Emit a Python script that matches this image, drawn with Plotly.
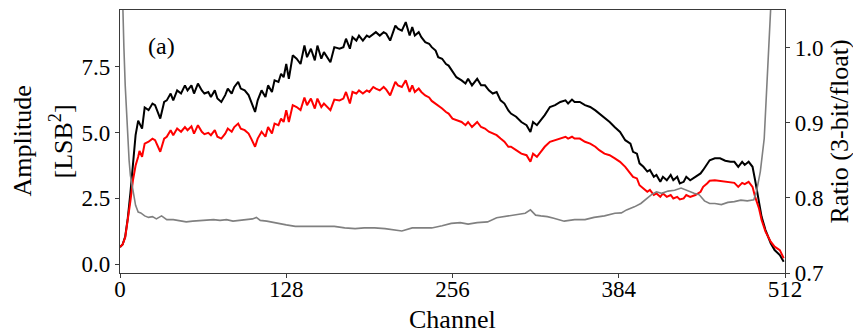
import plotly.graph_objects as go

# Channel grid for the amplitude spectra
channel = [0, 2, 4, 6, 8, 10, 12, 14, 15, 17, 19, 22, 25, 27, 31, 34, 36, 39, 41, 44,
           47, 50, 52, 55, 57, 60, 63, 65, 68, 70, 73, 75, 78, 81, 83, 86, 88, 91, 93, 96,
           99, 101, 104, 106, 109, 112, 114, 117, 119, 122, 124, 126, 128, 130, 133, 136, 139, 142, 144, 147,
           150, 152, 155, 157, 162, 165, 169, 172, 174, 177, 179, 182, 184, 187, 190, 192, 195, 197, 200, 203,
           205, 208, 212, 214, 217, 220, 223, 225, 227, 230, 232, 235, 238, 240, 243, 245, 248, 251, 253, 256,
           259, 263, 266, 268, 271, 275, 278, 281, 284, 287, 290, 293, 296, 299, 301, 305, 309, 313, 316, 318,
           321, 324, 327, 331, 335, 339, 343, 345, 348, 350, 354, 358, 362, 366, 369, 373, 377, 381, 385, 389,
           393, 395, 398, 400, 403, 406, 408, 411, 413, 416, 418, 421, 424, 426, 429, 431, 434, 436, 439, 443,
           447, 449, 452, 454, 458, 462, 466, 470, 473, 476, 479, 481, 484, 487, 489, 492, 494, 497, 501, 504,
           508, 511]

# Floating-point spectrum amplitude [LSB^2]
amp_float = [0.65, 0.75, 1.05, 1.75, 2.7, 3.9, 4.9, 5.45, 5.35, 5.15, 5.95, 5.85, 6.1, 6.04, 5.53, 6.16, 6.22, 6.48, 6.22, 6.6,
             6.48, 6.79, 6.6, 6.79, 6.48, 6.86, 6.6, 6.48, 6.54, 6.35, 6.6, 6.29, 6.16, 6.42, 6.67, 6.48, 6.73, 6.92, 6.67, 6.6,
             6.42, 6.16, 5.78, 6.22, 6.6, 6.35, 6.79, 6.54, 6.98, 6.92, 7.23, 7.1, 7.6, 7.04, 7.93, 7.8, 7.6, 8.3, 7.86, 8.18,
             7.74, 8.3, 7.8, 8.05, 7.67, 8.24, 8.18, 8.24, 8.56, 8.18, 8.62, 8.49, 8.68, 8.49, 8.68, 8.62, 8.75, 8.81, 8.68, 8.81,
             8.75, 8.49, 9.06, 8.94, 8.87, 9.19, 8.68, 9.0, 8.68, 8.81, 8.62, 8.43, 8.37, 8.24, 8.11, 7.86, 7.8, 7.6, 7.54, 7.3,
             7.1, 6.98, 6.86, 7.04, 6.79, 7.04, 6.79, 6.79, 6.6, 6.48, 6.54, 6.22, 6.1, 5.84, 5.72, 5.6, 5.4, 5.28, 5.02, 5.4,
             5.28, 5.47, 5.66, 5.97, 6.04, 6.16, 6.22, 6.1, 6.25, 6.16, 6.16, 6.04, 5.97, 5.84, 5.72, 5.53, 5.4, 5.2, 5.02, 4.71,
             4.58, 4.27, 4.2, 3.83, 3.7, 3.52, 3.58, 3.32, 3.39, 3.13, 3.32, 3.19, 3.39, 3.19, 3.32, 3.07, 3.13, 3.32, 3.19, 3.32,
             3.45, 3.58, 3.83, 3.95, 4.02, 4.02, 3.93, 3.89, 3.89, 3.7, 3.89, 3.77, 3.89, 3.7, 3.19, 2.44, 1.8, 1.3, 0.8, 0.54,
             0.35, 0.1]

# 3-bit quantised spectrum amplitude [LSB^2]
amp_3bit = [0.65, 0.75, 1.02, 1.65, 2.4, 3.2, 3.75, 4.08, 4.3, 4.08, 4.58, 4.65, 4.77, 4.71, 4.27, 4.77, 4.84, 5.09, 4.9, 5.15,
            5.03, 5.21, 5.09, 5.24, 4.96, 5.28, 5.03, 4.94, 4.99, 4.9, 5.09, 4.84, 4.77, 4.96, 5.15, 5.03, 5.21, 5.34, 5.15, 5.09,
            4.96, 4.77, 4.46, 4.77, 5.03, 4.84, 5.21, 4.96, 5.34, 5.28, 5.53, 5.4, 5.85, 5.4, 6.04, 5.97, 5.85, 6.33, 6.04, 6.29,
            5.91, 6.29, 5.97, 6.1, 5.85, 6.25, 6.22, 6.29, 6.54, 6.1, 6.54, 6.48, 6.6, 6.48, 6.6, 6.54, 6.73, 6.67, 6.6, 6.73,
            6.63, 6.41, 6.92, 6.79, 6.73, 6.98, 6.54, 6.79, 6.54, 6.67, 6.54, 6.41, 6.33, 6.2, 6.1, 6.04, 5.91, 5.78, 5.72, 5.53,
            5.47, 5.4, 5.28, 5.4, 5.21, 5.4, 5.21, 5.15, 5.03, 4.96, 4.9, 4.77, 4.65, 4.46, 4.46, 4.33, 4.2, 4.14, 3.89, 4.2,
            4.08, 4.27, 4.46, 4.65, 4.71, 4.77, 4.84, 4.77, 4.84, 4.77, 4.77, 4.65, 4.58, 4.46, 4.33, 4.2, 4.14, 4.02, 3.89, 3.7,
            3.45, 3.32, 3.26, 3.0, 2.88, 2.75, 2.82, 2.63, 2.69, 2.56, 2.69, 2.56, 2.63, 2.5, 2.56, 2.46, 2.5, 2.63, 2.56, 2.63,
            2.75, 2.94, 3.07, 3.17, 3.19, 3.17, 3.13, 3.13, 3.09, 2.94, 3.09, 3.04, 3.13, 2.94, 2.56, 2.12, 1.68, 1.24, 0.86, 0.67,
            0.54, 0.23]

# Ratio of the 3-bit to the floating-point spectrum
ratio_channel = [0, 1, 2, 3, 4, 5, 6, 7, 8, 10, 12, 14, 16, 19, 22, 25, 28, 32, 36, 41,
                 46, 51, 56, 62, 67, 72, 77, 82, 87, 92, 97, 102, 105, 108, 113, 118, 123, 128, 135, 143,
                 150, 158, 165, 173, 181, 188, 196, 204, 212, 217, 225, 233, 240, 248, 255, 262, 268, 275, 283, 290,
                 298, 306, 312, 316, 320, 324, 329, 334, 342, 350, 358, 365, 373, 381, 386, 390, 396, 401, 406, 409,
                 413, 417, 422, 427, 432, 437, 442, 446, 450, 454, 458, 463, 468, 473, 478, 483, 488, 490, 493, 496,
                 498, 500, 502, 504, 506, 511]
ratio = [1.2, 1.12, 1.06, 1.0, 0.95, 0.91, 0.875, 0.85, 0.83, 0.808, 0.79, 0.781, 0.78, 0.776, 0.774, 0.775, 0.772, 0.776, 0.771, 0.771,
         0.769, 0.768, 0.769, 0.77, 0.771, 0.771, 0.77, 0.771, 0.769, 0.77, 0.77, 0.772, 0.774, 0.77, 0.769, 0.767, 0.765, 0.764, 0.762, 0.762,
         0.762, 0.763, 0.762, 0.76, 0.759, 0.76, 0.76, 0.759, 0.757, 0.756, 0.76, 0.76, 0.76, 0.763, 0.766, 0.767, 0.765, 0.767, 0.768, 0.7735,
         0.7757, 0.777, 0.7795, 0.784, 0.777, 0.776, 0.775, 0.773, 0.769, 0.771, 0.771, 0.774, 0.776, 0.7795, 0.78, 0.784, 0.788, 0.7925, 0.8, 0.804,
         0.808, 0.806, 0.809, 0.81, 0.813, 0.809, 0.806, 0.804, 0.796, 0.7925, 0.7925, 0.791, 0.794, 0.795, 0.797, 0.796, 0.7975, 0.808, 0.835, 0.879,
         0.937, 0.994, 1.05, 1.12, 1.2, 1.4]

x_ticks = [0, 128, 256, 384, 512]
y_ticks = [0.0, 2.5, 5.0, 7.5]
y_ticktext = ["0.0", "2.5", "5.0", "7.5"]
ratio_ticks = [0.7, 0.8, 0.9, 1.0]
ratio_ticktext = ["0.7", "0.8", "0.9", "1.0"]

SERIF = "Liberation Serif, Times New Roman, serif"
AXIS_COLOR = "#3a3a3a"

fig = go.Figure()
fig.add_trace(go.Scatter(x=channel, y=amp_float, mode="lines",
                         line=dict(color="black", width=2), name="float"))
fig.add_trace(go.Scatter(x=channel, y=amp_3bit, mode="lines",
                         line=dict(color="#ff0000", width=2), name="3-bit"))
fig.add_trace(go.Scatter(x=ratio_channel, y=ratio, mode="lines", yaxis="y2",
                         line=dict(color="#808080", width=1.6), name="ratio"))

axis_common = dict(showline=True, linecolor=AXIS_COLOR, linewidth=1.3,
                   ticks="outside", ticklen=4, tickwidth=1.2, tickcolor=AXIS_COLOR,
                   showgrid=False, zeroline=False,
                   tickfont=dict(family=SERIF, size=23, color="black"))

fig.update_layout(
    width=853, height=333,
    margin=dict(l=120, r=68, t=10, b=60),
    paper_bgcolor="white", plot_bgcolor="white",
    showlegend=False,
    xaxis=dict(range=[0, 512], tickvals=x_ticks, mirror=True,
               ticklabelstandoff=-9, **axis_common),
    yaxis=dict(range=[-0.33, 9.65], tickvals=y_ticks, ticktext=y_ticktext, **axis_common),
    yaxis2=dict(range=[0.7, 1.05], tickvals=ratio_ticks, ticktext=ratio_ticktext,
                overlaying="y", side="right", **axis_common),
    annotations=[
        dict(text="Channel", x=0.5, y=0, xref="paper", yref="paper",
             xanchor="center", yanchor="middle", yshift=-46, showarrow=False,
             font=dict(family=SERIF, size=26, color="black")),
        dict(text="Amplitude", x=0, y=0.5, xref="paper", yref="paper",
             xanchor="center", yanchor="middle", xshift=-98, showarrow=False, textangle=-90,
             font=dict(family=SERIF, size=26, color="black")),
        dict(text="[LSB<sup>2</sup>]", x=0, y=0.5, xref="paper", yref="paper",
             xanchor="center", yanchor="middle", xshift=-58, showarrow=False, textangle=-90,
             font=dict(family=SERIF, size=26, color="black")),
        dict(text="Ratio (3-bit/float)", x=1, y=0.5, xref="paper", yref="paper",
             xanchor="center", yanchor="middle", xshift=54, yshift=10, showarrow=False, textangle=-90,
             font=dict(family=SERIF, size=26, color="black")),
        dict(text="(a)", x=0.063, y=0.865, xref="paper", yref="paper",
             xanchor="center", yanchor="middle", showarrow=False,
             font=dict(family=SERIF, size=24, color="black")),
    ],
)

fig.write_html("out.html")
